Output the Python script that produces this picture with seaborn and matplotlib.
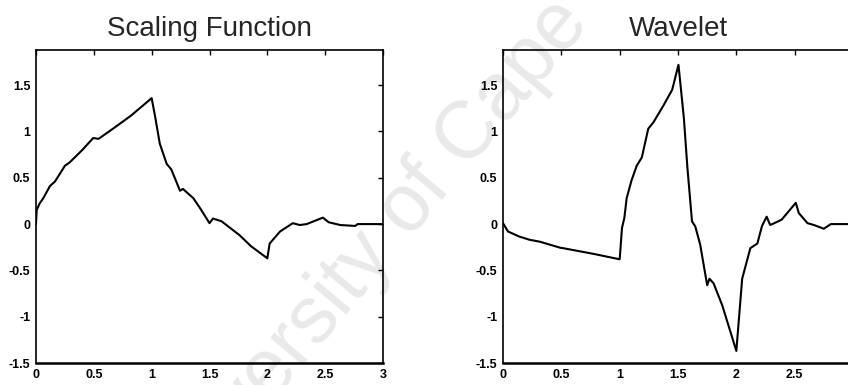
import matplotlib
matplotlib.use("Agg")
import matplotlib.pyplot as plt
import seaborn as sns
import pandas as pd

# Daubechies-type scaling function phi(t) on [0, 3]
phi_t = [0.0, 0.006, 0.03, 0.063, 0.12, 0.164, 0.25, 0.29, 0.40, 0.495, 0.54,
         0.62, 0.71, 0.82, 1.0, 1.03, 1.07, 1.13, 1.17, 1.245, 1.27, 1.36,
         1.417, 1.50, 1.53, 1.605, 1.76, 1.86, 1.99, 2.0, 2.02, 2.11, 2.22,
         2.28, 2.34, 2.48, 2.53, 2.63, 2.76, 2.78, 3.0]
phi_v = [0.0, 0.15, 0.22, 0.28, 0.41, 0.46, 0.63, 0.665, 0.80, 0.93, 0.92,
         0.99, 1.07, 1.17, 1.36, 1.16, 0.87, 0.65, 0.59, 0.36, 0.38, 0.28,
         0.175, 0.01, 0.06, 0.03, -0.12, -0.24, -0.36, -0.37, -0.21, -0.08,
         0.01, -0.01, 0.0, 0.07, 0.02, -0.01, -0.02, 0.0, 0.0]

# Matching wavelet psi(t) on [0, 3]
psi_t = [0.0, 0.043, 0.14, 0.23, 0.315, 0.49, 0.515, 0.77, 1.0, 1.02, 1.04,
         1.06, 1.10, 1.146, 1.19, 1.245, 1.29, 1.375, 1.45, 1.504, 1.55, 1.58,
         1.605, 1.62, 1.648, 1.69, 1.75, 1.77, 1.805, 1.88, 2.0, 2.05, 2.12,
         2.18, 2.22, 2.26, 2.29, 2.36, 2.39, 2.51, 2.535, 2.61, 2.665, 2.75,
         2.81, 3.0]
psi_v = [0.01, -0.08, -0.135, -0.17, -0.19, -0.255, -0.26, -0.32, -0.38,
         -0.04, 0.065, 0.28, 0.465, 0.63, 0.72, 1.03, 1.1, 1.28, 1.45, 1.72,
         1.15, 0.62, 0.25, 0.03, -0.025, -0.22, -0.66, -0.59, -0.64, -0.88,
         -1.37, -0.59, -0.26, -0.21, -0.02, 0.08, -0.01, 0.03, 0.05, 0.23,
         0.12, 0.01, -0.01, -0.05, 0.0, 0.0]

titles = ["Scaling Function", "Wavelet"]
x_ticks = [0, 0.5, 1, 1.5, 2, 2.5, 3]
x_labels = ["0", "0.5", "1", "1.5", "2", "2.5", "3"]
y_ticks = [-1.5, -1, -0.5, 0, 0.5, 1, 1.5]
y_labels = ["-1.5", "-1", "-0.5", "0", "0.5", "1", "1.5"]

sns.set_style("white")
plt.rcParams["font.family"] = ["Liberation Sans", "DejaVu Sans"]

W, H = 848, 385
fig = plt.figure(figsize=(W / 100, H / 100), dpi=100)
fig.patch.set_facecolor("white")

# faint archive stamp running diagonally behind both panels
fig.text(430 / W, 1 - 182 / H, "University of Cape Town", rotation=50,
         ha="center", va="center", fontsize=58, color="#e9e9e9", zorder=-1)

ax1 = fig.add_axes([36 / W, 22 / H, 347 / W, 313 / H])
ax2 = fig.add_axes([503 / W, 22 / H, 350 / W, 313 / H])

frames = [pd.DataFrame({"t": phi_t, "v": phi_v}),
          pd.DataFrame({"t": psi_t, "v": psi_v})]

for ax, df, title in zip([ax1, ax2], frames, titles):
    ax.set_facecolor("none")
    sns.lineplot(data=df, x="t", y="v", ax=ax, color="black",
                 linewidth=1.5, estimator=None, sort=False)
    ax.set_xlim(0, 3)
    ax.set_ylim(-1.5, 1.88)
    ax.set_xticks(x_ticks)
    ax.set_xticklabels(x_labels)
    ax.set_yticks(y_ticks)
    ax.set_yticklabels(y_labels)
    ax.set_xlabel("")
    ax.set_ylabel("")
    ax.tick_params(direction="in", length=3.5, width=1, top=True, right=True,
                   labelsize=9, pad=4, colors="black")
    for lab in ax.get_xticklabels() + ax.get_yticklabels():
        lab.set_fontweight("bold")
    for s in ax.spines.values():
        s.set_visible(True)
        s.set_color("black")
        s.set_linewidth(1.2)
    ax.spines["bottom"].set_linewidth(1.8)
    ax.set_title(title, fontsize=20, pad=10)

fig.savefig("out.png", dpi=100)
